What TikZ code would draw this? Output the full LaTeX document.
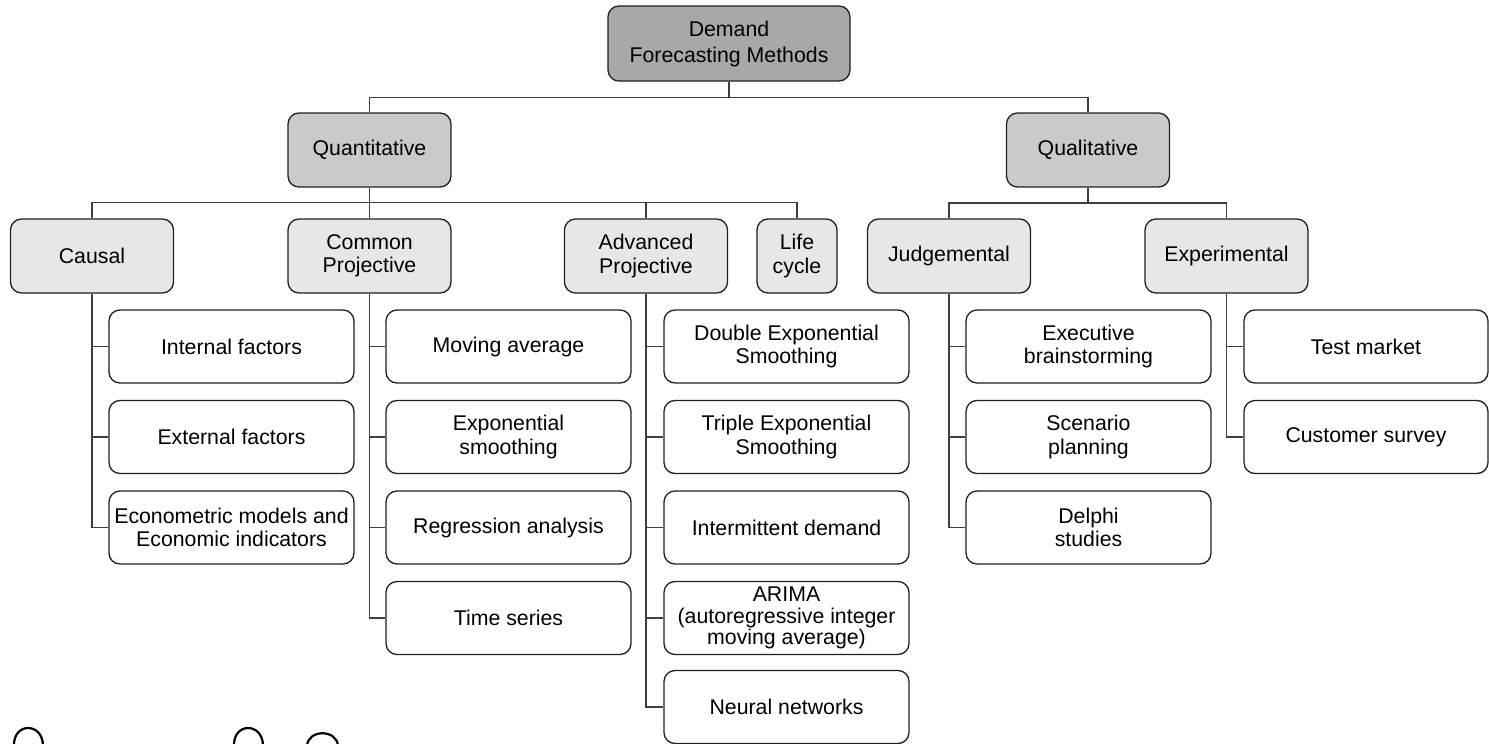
\documentclass[tikz,border=0pt]{standalone}
\usepackage{fontspec}
\setmainfont{Liberation Sans}
\definecolor{topfill}{HTML}{A7A8AB}
\definecolor{midfill}{HTML}{C9CACC}
\definecolor{catfill}{HTML}{E6E7E8}
\definecolor{edge}{HTML}{231F20}
\definecolor{wire}{HTML}{3F3F41}
\tikzset{
  basebox/.style={draw=edge, line width=1.3pt, rounded corners=11pt, align=center,
    inner sep=0pt, font=\fontsize{21.3}{23.5}\selectfont, text=black},
  rootbox/.style={basebox, fill=topfill, minimum width=242, minimum height=75,
    font=\fontsize{21.3}{26}\selectfont},
  groupbox/.style={basebox, fill=midfill, minimum width=163, minimum height=74},
  catbox/.style={basebox, fill=catfill, minimum width=163, minimum height=74},
  lifebox/.style={basebox, fill=catfill, minimum width=80, minimum height=74},
  leafbox/.style={basebox, fill=white, minimum width=245, minimum height=73},
  conn/.style={draw=wire, line width=1.4pt},
  blob/.style={draw=black, line width=2.2pt}
}
\begin{document}
\begin{tikzpicture}[x=1pt, y=-1pt]
\useasboundingbox (0,0) rectangle (1489,744);

\node[rootbox] (root) at (729,43.5) {Demand\\Forecasting Methods};
\node[groupbox] (quant) at (369.5,150) {Quantitative};
\node[groupbox] (qual) at (1088,150) {Qualitative};

\node[catbox] (causal) at (92,256) {Causal};
\node[catbox] (common) at (369.5,256) {Common\\Projective};
\node[catbox] (adv) at (646,256) {Advanced\\Projective};
\node[lifebox] (life) at (797,256) {Life\\cycle};
\node[catbox] (judg) at (949,256) {Judgemental};
\node[catbox] (exper) at (1226.5,256) {Experimental};

% Causal leaves
\node[leafbox] (c1) at (231.5,346.5) {Internal factors};
\node[leafbox] (c2) at (231.5,437) {External factors};
\node[leafbox] (c3) at (231.5,527.5) {Econometric models and\\Economic indicators};
% Common projective leaves
\node[leafbox] (p1) at (508.5,346.5) {Moving average};
\node[leafbox] (p2) at (508.5,437) {Exponential\\smoothing};
\node[leafbox] (p3) at (508.5,527.5) {Regression analysis};
\node[leafbox] (p4) at (508.5,618) {Time series};
% Advanced projective leaves
\node[leafbox] (a1) at (786.5,346.5) {Double Exponential\\Smoothing};
\node[leafbox] (a2) at (786.5,437) {Triple Exponential\\Smoothing};
\node[leafbox] (a3) at (786.5,527.5) {Intermittent demand};
\node[leafbox, font=\fontsize{21.3}{21.8}\selectfont] (a4) at (786.5,618) {ARIMA\\(autoregressive integer\\moving average)};
\node[leafbox] (a5) at (786.5,707) {Neural networks};
% Judgemental leaves
\node[leafbox] (j1) at (1088.5,346.5) {Executive\\brainstorming};
\node[leafbox] (j2) at (1088.5,437) {Scenario\\planning};
\node[leafbox] (j3) at (1088.5,527.5) {Delphi\\studies};
% Experimental leaves
\node[leafbox, minimum width=244] (e1) at (1366,346.5) {Test market};
\node[leafbox, minimum width=244] (e2) at (1366,437) {Customer survey};

% level 1
\draw[conn] (root.south) -- ++(0,16) -| (quant.north);
\draw[conn] (root.south) -- ++(0,16) -| (qual.north);
% level 2
\foreach \t in {causal,common,adv,life}
  \draw[conn] (quant.south) -- ++(0,15) -| (\t.north);
\foreach \t in {judg,exper}
  \draw[conn] (qual.south) -- ++(0,15.5) -| (\t.north);
% leaves
\foreach \l in {c1,c2,c3} \draw[conn] (causal.south) |- (\l.west);
\foreach \l in {p1,p2,p3,p4} \draw[conn] (common.south) |- (\l.west);
\foreach \l in {a1,a2,a3,a4,a5} \draw[conn] (adv.south) |- (\l.west);
\foreach \l in {j1,j2,j3} \draw[conn] (judg.south) |- (\l.west);
\foreach \l in {e1,e2} \draw[conn] (exper.south) |- (\l.west);

% partial marks at the lower edge
\draw[blob] (14,746) .. controls (13,722) and (43,722) .. (43,746);
\draw[blob] (234,746) .. controls (233,722) and (263,722) .. (263,746);
\draw[blob] (307,746) .. controls (308,729) and (337,729) .. (338,746);
\end{tikzpicture}
\end{document}
